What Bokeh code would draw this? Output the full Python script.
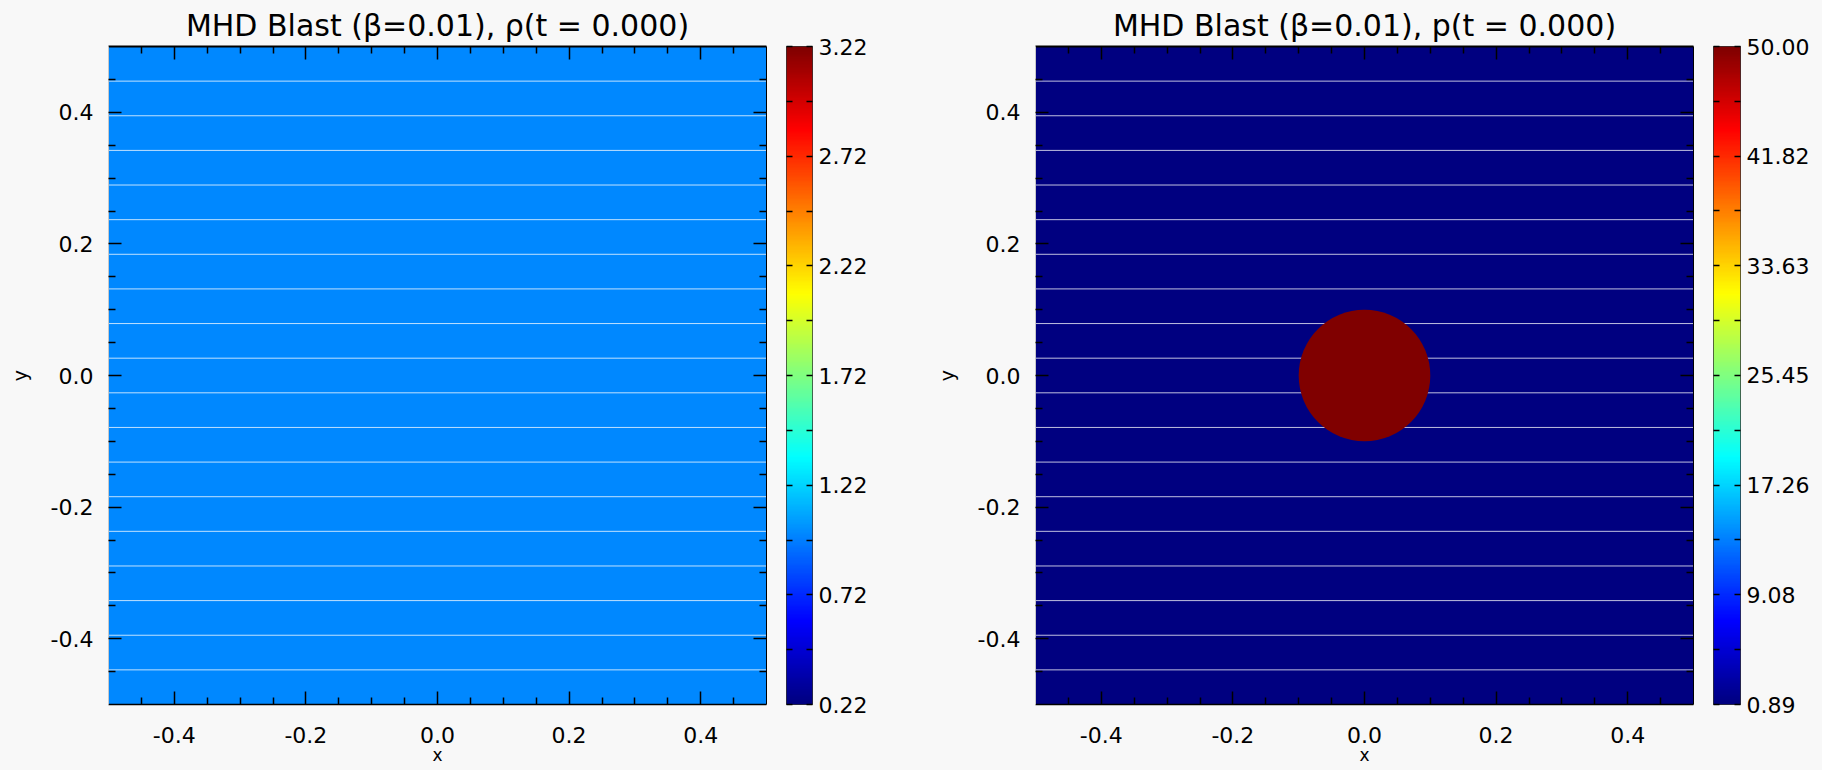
import numpy as np
from bokeh.plotting import figure
from bokeh.layouts import row
from bokeh.models import (LinearColorMapper, LinearAxis, FixedTicker,
                          PrintfTickFormatter, Range1d, ColumnDataSource)
from bokeh.transform import transform
from bokeh.embed import file_html
from bokeh.resources import INLINE

# ---------------- data ----------------
domain = [-0.5, 0.5]
n_strips = 19

titles = ["MHD Blast (\u03b2=0.01), \u03c1(t = 0.000)",
          "MHD Blast (\u03b2=0.01), p(t = 0.000)"]

axis_major_ticks = [-0.4, -0.2, 0.0, 0.2, 0.4]

rho_ambient = [1.0]
p_ambient = [1.0]
blast_x = [0.0]
blast_y = [0.0]
blast_r = [0.1]
p_blast = [50.0]

cb_ticks_rho = [0.22, 0.72, 1.22, 1.72, 2.22, 2.72, 3.22]
cb_ticks_p = [0.89, 9.08, 17.26, 25.45, 33.63, 41.82, 50.00]

# ---------------- style ----------------
BG = "#f8f8f8"
FONT = "DejaVu Sans"
axis_minor_ticks = [round(domain[0] + 0.05 * k, 2) for k in range(1, 20)]
axis_minor_ticks = [t for t in axis_minor_ticks
                    if all(abs(t - m) > 1e-9 for m in axis_major_ticks)]


def jet(n=256):
    x = np.linspace(0, 1, n)
    r = np.clip(1.5 - np.abs(4 * x - 3), 0, 1)
    g = np.clip(1.5 - np.abs(4 * x - 2), 0, 1)
    b = np.clip(1.5 - np.abs(4 * x - 1), 0, 1)
    return ["#%02x%02x%02x" % (int(round(rr * 255)), int(round(gg * 255)), int(round(bb * 255)))
            for rr, gg, bb in zip(r, g, b)]


PALETTE = jet()


def tick_style(ax, major_len, minor_len):
    ax.major_tick_in = major_len
    ax.major_tick_out = 0
    ax.minor_tick_in = minor_len
    ax.minor_tick_out = 0
    ax.major_tick_line_color = "black"
    ax.minor_tick_line_color = "black"
    ax.major_tick_line_width = 1.5
    ax.minor_tick_line_width = 1.5


def tick_only_axis(positions, length, line_color=None, line_width=1):
    ax = LinearAxis(ticker=FixedTicker(ticks=[], minor_ticks=positions))
    tick_style(ax, 0, length)
    ax.axis_line_color = line_color
    ax.axis_line_width = line_width
    ax.major_label_standoff = 0
    return ax


def labelled_axis(ax, line_color, line_width, label_size):
    ax.ticker = FixedTicker(ticks=axis_major_ticks, minor_ticks=axis_minor_ticks)
    ax.formatter = PrintfTickFormatter(format="%.1f")
    tick_style(ax, 13, 7)
    ax.axis_line_color = line_color
    ax.axis_line_width = line_width
    ax.major_label_text_font = FONT
    ax.major_label_text_font_size = "22px"
    ax.major_label_text_color = "black"
    ax.axis_label_text_font = FONT
    ax.axis_label_text_font_size = label_size
    ax.axis_label_text_font_style = "normal"
    ax.axis_label_text_color = "black"


def main_panel(title, lo, hi, bg_value, border_left, blast=None):
    mapper = LinearColorMapper(palette=PALETTE, low=lo, high=hi)
    p = figure(frame_width=658, frame_height=658,
               x_range=Range1d(*domain), y_range=Range1d(*domain),
               output_backend="svg", toolbar_location=None,
               min_border_left=border_left, min_border_right=20,
               min_border_top=46, min_border_bottom=66,
               background_fill_color=BG, border_fill_color=BG,
               x_axis_label="x", y_axis_label="y")
    p.outline_line_color = None
    p.grid.visible = False
    p.title.text = title
    p.title.text_font = FONT
    p.title.text_font_size = "30px"
    p.title.text_font_style = "normal"
    p.title.text_color = "black"
    p.title.align = "center"
    p.title.standoff = 7

    width = domain[1] - domain[0]
    p.image(image=[np.array([[bg_value]])], x=domain[0], y=domain[0],
            dw=width, dh=width, color_mapper=mapper)

    ys = [domain[0] + k * width / n_strips for k in range(1, n_strips)]
    p.segment(x0=[domain[0]] * len(ys), x1=[domain[1]] * len(ys), y0=ys, y1=ys,
              line_color="white", line_alpha=0.75, line_width=1)

    if blast is not None:
        bx, by, br, bv = blast
        src = ColumnDataSource(dict(x=bx, y=by, r=br, v=bv))
        p.circle(x="x", y="y", radius="r", source=src,
                 fill_color=transform("v", mapper), line_color=None)

    labelled_axis(p.xaxis[0], "black", 1.5, "17px")
    labelled_axis(p.yaxis[0], "#c8c8c8", 1, "19px")
    p.xaxis[0].major_label_standoff = 22
    p.xaxis[0].axis_label_standoff = -1
    p.yaxis[0].major_label_standoff = 15
    p.yaxis[0].axis_label_standoff = 17

    p.add_layout(tick_only_axis(axis_major_ticks, 13, "black", 2), "above")
    p.add_layout(tick_only_axis(axis_minor_ticks, 7), "above")
    p.add_layout(tick_only_axis(axis_major_ticks, 13, "black", 1), "right")
    p.add_layout(tick_only_axis(axis_minor_ticks, 7), "right")
    return p


def colorbar_panel(ticks, frame_w, border_right):
    lo, hi = ticks[0], ticks[-1]
    mapper = LinearColorMapper(palette=PALETTE, low=lo, high=hi)
    c = figure(frame_width=frame_w, frame_height=658,
               x_range=Range1d(0, 1), y_range=Range1d(lo, hi),
               output_backend="svg", toolbar_location=None,
               min_border_left=0, min_border_right=border_right,
               min_border_top=46, min_border_bottom=66,
               background_fill_color=BG, border_fill_color=BG,
               x_axis_location=None, y_axis_location="right")
    c.grid.visible = False
    c.outline_line_color = "#333333"
    c.outline_line_width = 1
    grad = np.linspace(lo, hi, 256).reshape(256, 1)
    c.image(image=[grad], x=0, y=lo, dw=1, dh=hi - lo, color_mapper=mapper)
    mids = [(a + b) / 2 for a, b in zip(ticks[:-1], ticks[1:])]

    ax = c.yaxis[0]
    ax.ticker = FixedTicker(ticks=ticks, minor_ticks=mids)
    ax.formatter = PrintfTickFormatter(format="%.2f")
    tick_style(ax, 6, 6)
    ax.axis_line_color = None
    ax.major_label_text_font = FONT
    ax.major_label_text_font_size = "22px"
    ax.major_label_text_color = "black"
    ax.major_label_standoff = 6

    c.add_layout(tick_only_axis(list(ticks) + mids, 6), "left")
    return c


p1 = main_panel(titles[0], cb_ticks_rho[0], cb_ticks_rho[-1], rho_ambient[0], 108)
c1 = colorbar_panel(cb_ticks_rho, 26, 96)
p2 = main_panel(titles[1], cb_ticks_p[0], cb_ticks_p[-1], p_ambient[0], 127,
                blast=(blast_x, blast_y, blast_r, p_blast))
c2 = colorbar_panel(cb_ticks_p, 27, 82)

layout = row(p1, c1, p2, c2, spacing=0)
layout.styles = {"background-color": BG}

html = file_html(layout, INLINE)
html = html.replace("<body>", '<body style="background-color:%s;">' % BG, 1)
open("out.html", "w").write(html)
